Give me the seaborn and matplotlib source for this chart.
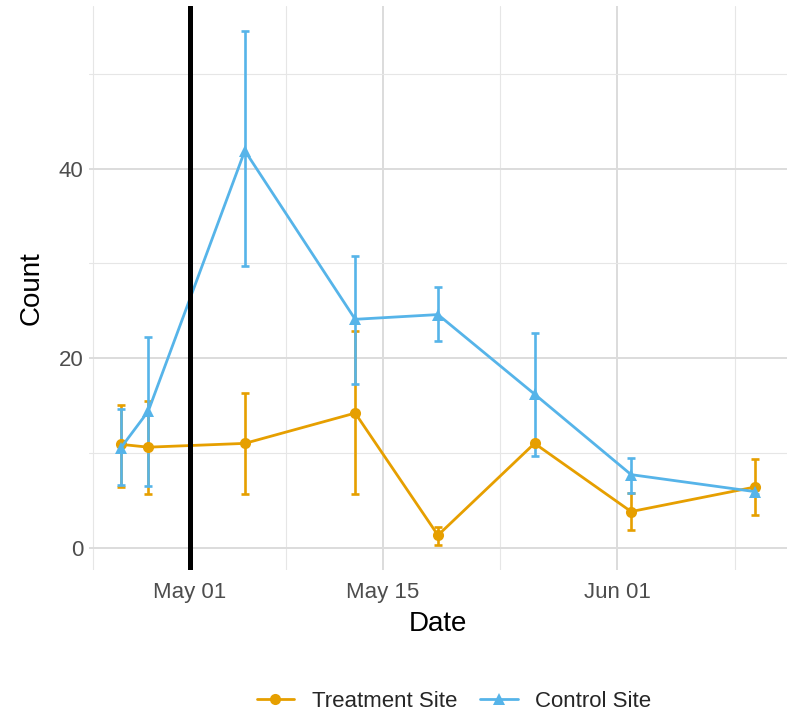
import numpy as np
import pandas as pd
import matplotlib
matplotlib.use("Agg")
import matplotlib.pyplot as plt
import matplotlib.dates as mdates
import matplotlib.ticker as mticker
import seaborn as sns

# --- data ---
dates = ["2021-04-26", "2021-04-28", "2021-05-05", "2021-05-13",
         "2021-05-19", "2021-05-26", "2021-06-02", "2021-06-11"]
sites = ["Treatment Site", "Control Site"]

treat_mean = [10.9, 10.6, 11.0, 14.2, 1.3, 11.0, 3.8, 6.4]
treat_low = [6.4, 5.7, 5.7, 5.7, 0.3, 10.7, 1.9, 3.4]
treat_high = [15.0, 15.5, 16.3, 22.9, 2.2, 11.3, 5.8, 9.3]

ctrl_mean = [10.5, 14.4, 41.9, 24.1, 24.6, 16.2, 7.7, 5.9]
ctrl_low = [6.6, 6.5, 29.7, 17.3, 21.8, 9.7, 5.8, 5.7]
ctrl_high = [14.6, 22.2, 54.5, 30.8, 27.5, 22.7, 9.5, 6.1]

event_date = "2021-05-01"

colors = {"Treatment Site": "#E69F00", "Control Site": "#56B4E9"}
markers = {"Treatment Site": "o", "Control Site": "^"}

df = pd.DataFrame({
    "Date": pd.to_datetime(dates * 2),
    "Count": treat_mean + ctrl_mean,
    "low": treat_low + ctrl_low,
    "high": treat_high + ctrl_high,
    "Site": [sites[0]] * len(dates) + [sites[1]] * len(dates),
})
df["Site"] = pd.Categorical(df["Site"], categories=sites, ordered=True)

sns.set_theme(style="whitegrid")
plt.rcParams["font.family"] = ["Liberation Sans", "DejaVu Sans"]

fig, ax = plt.subplots(figsize=(7.87, 7.13), dpi=100)
fig.subplots_adjust(left=0.113, right=1.0, top=0.992, bottom=0.2)

# error bars
for s in sites:
    d = df[df["Site"] == s]
    ax.errorbar(d["Date"], d["Count"],
                yerr=[d["Count"] - d["low"], d["high"] - d["Count"]],
                fmt="none", ecolor=colors[s], elinewidth=1.9,
                capsize=3, capthick=1.9, zorder=3 if s == sites[0] else 4)

sns.lineplot(data=df, x="Date", y="Count", hue="Site", style="Site",
             hue_order=sites, style_order=sites, palette=colors,
             markers=markers, dashes=False, linewidth=2.0,
             markersize=8, markeredgewidth=0, ax=ax, zorder=5)

ax.axvline(pd.Timestamp(event_date), color="black", linewidth=3.6, zorder=6)

# axis limits with ggplot-like 5% expansion
xmin, xmax = df["Date"].min(), df["Date"].max()
xpad = (xmax - xmin) * 0.05
ax.set_xlim(xmin - xpad, xmax + xpad)
ymin, ymax = df["low"].min(), df["high"].max()
ypad = (ymax - ymin) * 0.05
ax.set_ylim(ymin - ypad, ymax + ypad)

# ticks / grid
majors = pd.to_datetime(["2021-05-01", "2021-05-15", "2021-06-01"])
half = (majors[1] - majors[0]) / 2
minors = [majors[0] - half] + [majors[i] + (majors[i + 1] - majors[i]) / 2
                                for i in range(len(majors) - 1)]
minors.append(majors[-1] + (majors[-1] - majors[-2]) / 2)
ax.xaxis.set_major_locator(mticker.FixedLocator(mdates.date2num(majors)))
ax.xaxis.set_minor_locator(mticker.FixedLocator(mdates.date2num(minors)))
ax.xaxis.set_major_formatter(mdates.DateFormatter("%b %d"))
ax.yaxis.set_major_locator(mticker.MultipleLocator(20))
ax.yaxis.set_minor_locator(mticker.MultipleLocator(10))

ax.grid(which="major", color="#DCDCDC", linewidth=1.4)
ax.grid(which="minor", color="#E6E6E6", linewidth=0.8)
ax.set_axisbelow(True)
for sp in ax.spines.values():
    sp.set_visible(False)
ax.set_facecolor("white")

ax.tick_params(axis="x", which="both", length=0, labelsize=16,
               labelcolor="#4D4D4D", pad=8)
ax.tick_params(axis="y", which="both", length=0, labelsize=16,
               labelcolor="#4D4D4D", pad=4)
ax.set_xlabel("Date", fontsize=20, color="black", labelpad=6)
ax.set_ylabel("Count", fontsize=20, color="black", labelpad=10)

handles, labels = ax.get_legend_handles_labels()
ax.legend(handles=handles, labels=labels, loc="center",
          bbox_to_anchor=(0.523, -0.232), ncol=2, frameon=False,
          fontsize=16, handlelength=1.7, columnspacing=1.0,
          handletextpad=0.8)

fig.savefig("out.png", dpi=100)
